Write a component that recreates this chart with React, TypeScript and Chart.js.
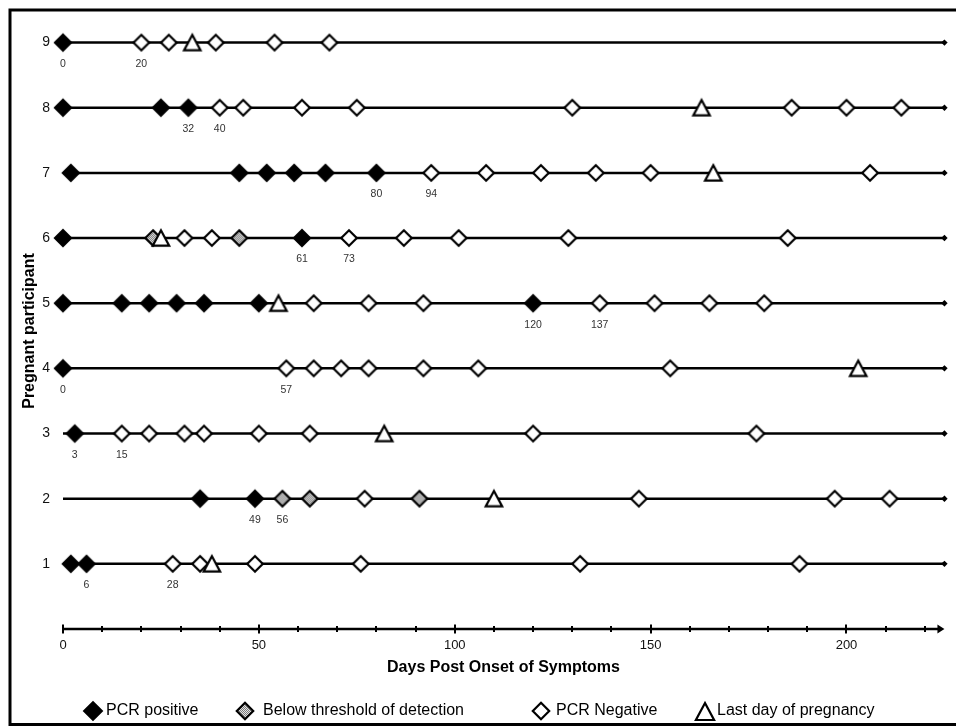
import React, { useEffect, useRef } from "react";
import { Chart, registerables } from "chart.js";

Chart.register(...registerables);

const participants = [1, 2, 3, 4, 5, 6, 7, 8, 9];
const pcrPositiveDays = [[2, 6], [35, 49], [3], [0], [0, 15, 22, 29, 36, 50, 120], [0, 61], [2, 45, 52, 59, 67, 80], [0, 25, 32], [0]];
const belowThresholdDays = [[], [56, 63, 91], [], [], [], [23, 45], [], [], []];
const pcrNegativeDays = [
  [28, 35, 49, 76, 132, 188],
  [77, 147, 197, 211],
  [15, 22, 31, 36, 50, 63, 120, 177],
  [57, 64, 71, 78, 92, 106, 155],
  [64, 78, 92, 137, 151, 165, 179],
  [31, 38, 73, 87, 101, 129, 185],
  [94, 108, 122, 136, 150, 206],
  [40, 46, 61, 75, 130, 186, 200, 214],
  [20, 27, 39, 54, 68],
];
const lastPregnancyDay = [38, 110, 82, 203, 55, 25, 166, 163, 33];
const followUpEndDay = 225;
const annotatedDays = [[6, 28], [49, 56], [3, 15], [0, 57], [120, 137], [61, 73], [80, 94], [32, 40], [0, 20]];
const xTickLabels = [0, 50, 100, 150, 200];
const xMinorStep = 10;
const legendLabels = ["PCR positive", "Below threshold of detection", "PCR Negative", "Last day of pregnancy"];
const xTitle = "Days Post Onset of Symptoms";
const yTitle = "Pregnant participant";

const FONT = "'Liberation Sans', Arial, Helvetica, sans-serif";

type Kind = "pos" | "below" | "neg" | "tri";

function makePattern(): CanvasPattern | string {
  const c = document.createElement("canvas");
  c.width = 2;
  c.height = 2;
  const g = c.getContext("2d")!;
  g.fillStyle = "#e2e2e2";
  g.fillRect(0, 0, 2, 2);
  g.fillStyle = "#7a7a7a";
  g.fillRect(0, 0, 1, 1);
  g.fillRect(1, 1, 1, 1);
  const p = g.createPattern(c, "repeat");
  return p || "#aaa";
}

function drawShape(ctx: CanvasRenderingContext2D, kind: Kind, cx: number, cy: number, r: number, pattern: CanvasPattern | string) {
  ctx.save();
  ctx.lineJoin = "miter";
  ctx.lineWidth = 2.2;
  ctx.strokeStyle = "#000";
  ctx.beginPath();
  if (kind === "tri") {
    ctx.moveTo(cx, cy - r);
    ctx.lineTo(cx + r * 1.07, cy + r);
    ctx.lineTo(cx - r * 1.07, cy + r);
    ctx.closePath();
    ctx.fillStyle = "#fff";
    ctx.fill();
    ctx.stroke();
  } else {
    ctx.moveTo(cx, cy - r);
    ctx.lineTo(cx + r, cy);
    ctx.lineTo(cx, cy + r);
    ctx.lineTo(cx - r, cy);
    ctx.closePath();
    if (kind === "pos") {
      ctx.fillStyle = "#000";
    } else if (kind === "below") {
      ctx.fillStyle = pattern as any;
    } else {
      ctx.fillStyle = "#fff";
    }
    ctx.fill();
    ctx.stroke();
  }
  ctx.restore();
}

function makeMarker(kind: Kind, r: number, pattern: CanvasPattern | string): HTMLCanvasElement {
  const c = document.createElement("canvas");
  c.width = 26;
  c.height = 26;
  const g = c.getContext("2d")!;
  drawShape(g, kind, 13, 13, r, pattern);
  return c;
}

function toPoints(rows: number[][]) {
  return rows.flatMap((days, i) => days.map((d) => ({ x: d, y: participants[i] })));
}

export default function App() {
  const ref = useRef<HTMLCanvasElement | null>(null);

  useEffect(() => {
    const canvas = ref.current;
    if (!canvas) return;
    const pattern = makePattern();
    const mPos = makeMarker("pos", 8, pattern);
    const mBelow = makeMarker("below", 7.8, pattern);
    const mNeg = makeMarker("neg", 7.8, pattern);
    const mTri = makeMarker("tri", 7.7, pattern);

    const lineSets = participants.map((p) => ({
      type: "scatter" as const,
      data: [
        { x: 0, y: p },
        { x: followUpEndDay, y: p },
      ],
      showLine: true,
      borderColor: "#000",
      borderWidth: 2.5,
      pointRadius: [0, 3.2],
      pointStyle: "rectRot",
      pointBackgroundColor: "#000",
      pointBorderColor: "#000",
      pointBorderWidth: 0,
      order: 10,
      clip: false,
    }));

    const markerSet = (data: any[], img: HTMLCanvasElement, order: number) => ({
      type: "scatter" as const,
      data,
      showLine: false,
      pointStyle: img,
      pointRadius: 9,
      order,
      clip: false,
    });

    const overlay = {
      id: "overlay",
      afterDraw(chart: any) {
        const ctx: CanvasRenderingContext2D = chart.ctx;
        const xs = chart.scales.x;
        const ys = chart.scales.y;
        const y0 = ys.getPixelForValue(0);
        ctx.save();
        // x axis line
        ctx.strokeStyle = "#000";
        ctx.lineWidth = 2.5;
        ctx.beginPath();
        ctx.moveTo(xs.getPixelForValue(0), y0);
        ctx.lineTo(xs.getPixelForValue(followUpEndDay) - 4, y0);
        ctx.stroke();
        // arrowhead
        const tip = xs.getPixelForValue(followUpEndDay);
        ctx.fillStyle = "#000";
        ctx.beginPath();
        ctx.moveTo(tip, y0);
        ctx.lineTo(tip - 7, y0 - 4.5);
        ctx.lineTo(tip - 7, y0 + 4.5);
        ctx.closePath();
        ctx.fill();
        // ticks
        ctx.lineWidth = 2;
        for (let d = 0; d < followUpEndDay - 2; d += xMinorStep) {
          const px = Math.round(xs.getPixelForValue(d));
          const h = xTickLabels.includes(d) ? 4.5 : 3;
          ctx.beginPath();
          ctx.moveTo(px, y0 - h);
          ctx.lineTo(px, y0 + h);
          ctx.stroke();
        }
        // tick labels
        ctx.fillStyle = "#111";
        ctx.font = `13px ${FONT}`;
        ctx.textAlign = "center";
        ctx.textBaseline = "middle";
        xTickLabels.forEach((v) => ctx.fillText(String(v), xs.getPixelForValue(v), 645));
        // x title
        ctx.fillStyle = "#000";
        ctx.font = `bold 16px ${FONT}`;
        ctx.fillText(xTitle, (chart.chartArea.left + chart.chartArea.right) / 2 - 1, 668);
        // y title
        ctx.save();
        ctx.translate(30, 331);
        ctx.rotate(-Math.PI / 2);
        ctx.fillText(yTitle, 0, 0);
        ctx.restore();
        // day annotations
        ctx.fillStyle = "#333";
        ctx.font = `10.5px ${FONT}`;
        annotatedDays.forEach((days, i) => {
          const py = ys.getPixelForValue(participants[i]) + 21.5;
          days.forEach((d) => ctx.fillText(String(d), xs.getPixelForValue(d), py));
        });
        // legend
        const ly = 711;
        drawShape(ctx, "pos", 93, ly, 8.8, pattern);
        drawShape(ctx, "below", 245, ly, 8.2, pattern);
        drawShape(ctx, "neg", 541, ly, 8.2, pattern);
        drawShape(ctx, "tri", 705, ly + 0.5, 8.5, pattern);
        ctx.fillStyle = "#000";
        ctx.font = `16px ${FONT}`;
        ctx.textAlign = "left";
        ctx.fillText(legendLabels[0], 106, ly);
        ctx.fillText(legendLabels[1], 263, ly);
        ctx.fillText(legendLabels[2], 556, ly);
        ctx.fillText(legendLabels[3], 717, ly);
        // frame
        ctx.strokeStyle = "#000";
        ctx.lineWidth = 3;
        ctx.strokeRect(10, 10, 980, 714.5);
        ctx.restore();
      },
    };

    const chart = new Chart(canvas, {
      type: "scatter",
      data: {
        datasets: [
          markerSet(lastPregnancyDay.map((d, i) => ({ x: d, y: participants[i] })), mTri, 0),
          markerSet(toPoints(pcrNegativeDays), mNeg, 1),
          markerSet(toPoints(belowThresholdDays), mBelow, 2),
          markerSet(toPoints(pcrPositiveDays), mPos, 3),
          ...lineSets,
        ] as any,
      },
      options: {
        animation: false,
        responsive: false,
        events: [],
        layout: { padding: { top: 8, left: 0, right: 7, bottom: 0 } },
        plugins: { legend: { display: false }, tooltip: { enabled: false } },
        scales: {
          x: {
            type: "linear",
            min: 0,
            max: 225.4,
            grid: { display: false, drawTicks: false },
            border: { display: false },
            ticks: { display: false },
            afterFit: (s: any) => {
              s.height = 97;
              s.paddingLeft = 0;
              s.paddingRight = 0;
            },
          },
          y: {
            type: "linear",
            min: 0,
            max: 9.5,
            grid: { display: false, drawTicks: false },
            border: { display: false },
            ticks: {
              stepSize: 1,
              padding: 13,
              color: "#111",
              font: { family: FONT, size: 14 },
              callback: (v: any) => (participants.includes(v) ? String(v) : ""),
            },
            afterFit: (s: any) => {
              s.width = 63;
              s.paddingTop = 0;
              s.paddingBottom = 0;
            },
          },
        },
      },
      plugins: [overlay],
    });
    return () => chart.destroy();
  }, []);

  return (
    <div style={{ position: "fixed", left: 0, top: 0, width: 956, height: 726, background: "#fff" }}>
      <canvas ref={ref} width={956} height={726} style={{ display: "block" }} />
    </div>
  );
}
